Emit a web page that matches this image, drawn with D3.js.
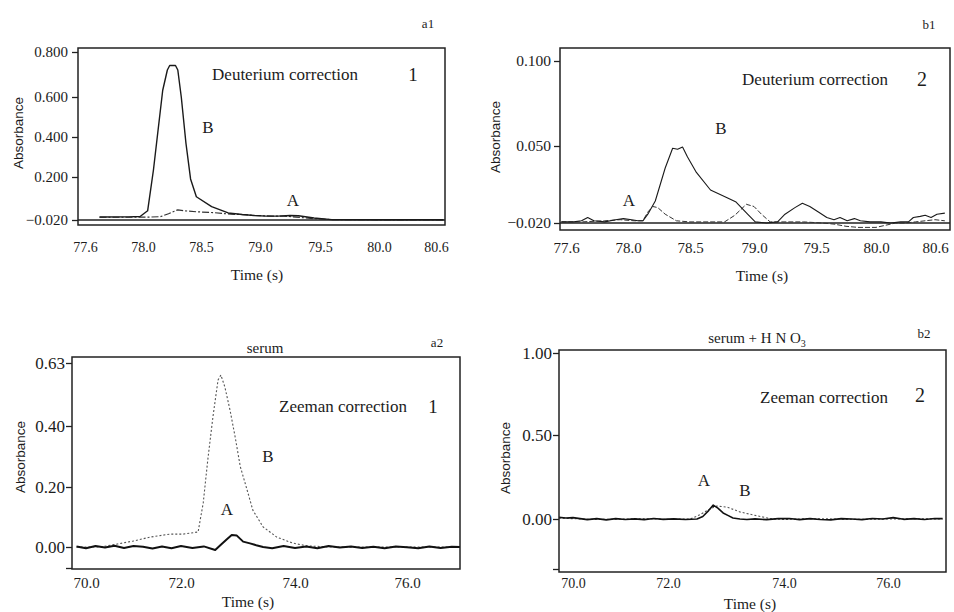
<!DOCTYPE html>
<html><head><meta charset="utf-8">
<script src="https://cdn.jsdelivr.net/npm/d3@7"></script>
<style>
html,body{margin:0;padding:0;background:#fff;}
svg{display:block;}
text{font-family:"Liberation Serif","Times New Roman",serif;fill:#1c1c1c;}
</style></head><body>
<svg id="chart" width="954" height="612"></svg>
<script>
// ---------------- DATA ----------------
// a1 : Deuterium correction 1
const a1XTicks = [77.6, 78.0, 78.5, 79.0, 79.5, 80.0, 80.6];
const a1YTicks = [-0.02, 0.2, 0.4, 0.6, 0.8];
const a1TimeB = [77.7, 77.9, 77.98, 78.04, 78.09, 78.13, 78.17, 78.21, 78.23, 78.28, 78.3, 78.33, 78.37, 78.41, 78.46, 78.59, 78.73, 78.85, 78.95, 79.05, 79.15, 79.25, 79.32, 79.45, 79.6, 80.0, 80.68];
const a1ValB  = [-0.005, -0.004, -0.002, 0.027, 0.235, 0.435, 0.63, 0.72, 0.74, 0.74, 0.72, 0.6, 0.37, 0.19, 0.099, 0.048, 0.016, 0.008, 0.003, 0.0, 0.0, 0.003, 0.002, -0.01, -0.018, -0.019, -0.019];
const a1TimeA = [77.7, 77.9, 78.05, 78.15, 78.22, 78.27, 78.3, 78.36, 78.46, 78.6, 78.75, 78.85, 78.96, 79.1, 79.2, 79.3, 79.45, 79.6, 80.0, 80.68];
const a1ValA  = [-0.006, -0.006, -0.005, -0.003, 0.012, 0.025, 0.032, 0.027, 0.022, 0.018, 0.01, 0.008, 0.003, 0.0, 0.0, -0.005, -0.013, -0.018, -0.019, -0.019];

// b1 : Deuterium correction 2
const b1XTicks = [77.6, 78.0, 78.5, 79.0, 79.5, 80.0, 80.6];
const b1YTicks = [-0.02, 0.05, 0.1];
const b1TimeB = [77.57, 77.65, 77.7, 77.74, 77.78, 77.85, 77.92, 77.97, 78.03, 78.08, 78.12, 78.16, 78.22, 78.3, 78.36, 78.4, 78.44, 78.48, 78.55, 78.66, 78.79, 78.86, 78.95, 79.01, 79.1, 79.19, 79.25, 79.33, 79.39, 79.45, 79.52, 79.59, 79.65, 79.7, 79.76, 79.82, 79.87, 79.95, 80.05, 80.15, 80.25, 80.33, 80.38, 80.45, 80.5, 80.56, 80.62, 80.7];
const b1ValB  = [-0.019, -0.019, -0.018, -0.015, -0.018, -0.019, -0.017, -0.016, -0.017, -0.018, -0.018, -0.012, 0.0, 0.03, 0.048, 0.047, 0.049, 0.04, 0.026, 0.01, 0.003, -0.001, -0.012, -0.019, -0.02, -0.019, -0.012, -0.006, -0.002, -0.005, -0.01, -0.015, -0.017, -0.015, -0.018, -0.016, -0.018, -0.019, -0.019, -0.02, -0.019, -0.019, -0.015, -0.014, -0.013, -0.015, -0.012, -0.011];
const b1TimeA = [77.57, 77.7, 77.85, 77.95, 78.05, 78.12, 78.16, 78.2, 78.24, 78.3, 78.39, 78.5, 78.6, 78.7, 78.77, 78.85, 78.94, 79.0, 79.06, 79.13, 79.25, 79.4, 79.55, 79.65, 79.75, 79.85, 80.0, 80.1, 80.2, 80.3, 80.4, 80.5, 80.6, 80.7];
const b1ValA  = [-0.019, -0.019, -0.018, -0.017, -0.018, -0.018, -0.01, -0.005, -0.006, -0.012, -0.018, -0.019, -0.019, -0.019, -0.019, -0.013, -0.003, -0.005, -0.012, -0.019, -0.019, -0.019, -0.02, -0.021, -0.023, -0.024, -0.024, -0.022, -0.02, -0.02, -0.019, -0.018, -0.017, -0.018];

// a2 : serum, Zeeman correction 1
const a2XTicks = [70.0, 72.0, 74.0, 76.0];
const a2YTicks = [-0.07, 0.0, 0.2, 0.4, 0.63];
const a2TimeA = [69.8, 70.0, 70.2, 70.4, 70.6, 70.8, 71.0, 71.2, 71.4, 71.6, 71.8, 72.0, 72.2, 72.4, 72.6, 72.68, 72.8, 72.89, 72.98, 73.09, 73.21, 73.32, 73.44, 73.6, 73.8, 74.0, 74.2, 74.4, 74.6, 74.8, 75.0, 75.2, 75.4, 75.6, 75.8, 76.0, 76.2, 76.4, 76.6, 76.8, 76.95];
const a2ValA  = [0.002, -0.004, 0.003, -0.002, 0.004, -0.003, 0.003, 0.001, -0.005, 0.002, -0.004, 0.003, -0.003, 0.002, -0.01, 0.004, 0.025, 0.04, 0.038, 0.018, 0.012, 0.006, 0.0, -0.004, 0.003, -0.003, 0.002, -0.004, 0.003, -0.002, 0.002, -0.003, 0.001, -0.004, 0.002, -0.001, -0.004, 0.002, -0.003, 0.001, 0.0];
const a2TimeB = [69.8, 70.3, 70.66, 71.0, 71.35, 71.77, 72.04, 72.3, 72.39, 72.47, 72.56, 72.65, 72.70, 72.77, 72.86, 72.95, 73.04, 73.16, 73.26, 73.44, 73.68, 73.96, 74.21, 74.6, 75.2, 76.0, 76.95];
const a2ValB  = [0.0, 0.0, 0.01, 0.02, 0.033, 0.043, 0.043, 0.05, 0.147, 0.289, 0.433, 0.568, 0.586, 0.542, 0.458, 0.364, 0.267, 0.19, 0.123, 0.067, 0.033, 0.013, 0.004, 0.0, 0.0, 0.0, 0.0];

// b2 : serum + HNO3, Zeeman correction 2
const b2XTicks = [70.0, 72.0, 74.0, 76.0];
const b2YTicks = [-0.3, 0.0, 0.5, 1.0];
const b2TimeA = [69.7, 69.85, 70.0, 70.15, 70.3, 70.5, 70.7, 70.9, 71.1, 71.3, 71.5, 71.7, 71.9, 72.1, 72.3, 72.5, 72.6, 72.7, 72.78, 72.86, 72.95, 73.04, 73.12, 73.24, 73.36, 73.5, 73.7, 73.9, 74.1, 74.3, 74.5, 74.7, 74.9, 75.1, 75.3, 75.5, 75.7, 75.9, 76.1, 76.3, 76.5, 76.7, 76.9, 77.05];
const b2ValA  = [0.01, 0.006, 0.008, 0.002, -0.004, 0.002, -0.005, 0.002, -0.003, 0.001, -0.004, 0.003, -0.002, 0.001, -0.003, 0.0, 0.015, 0.05, 0.083, 0.065, 0.036, 0.02, 0.006, 0.0, -0.003, 0.001, -0.004, 0.002, 0.003, -0.004, 0.002, -0.003, -0.005, 0.002, 0.0, -0.004, 0.003, 0.0, 0.008, -0.002, 0.002, -0.003, 0.003, 0.002];
const b2TimeB = [69.7, 70.5, 71.5, 72.0, 72.38, 72.55, 72.69, 72.84, 73.02, 73.24, 73.47, 73.71, 73.81, 74.0, 74.5, 75.5, 76.5, 77.05];
const b2ValB  = [0.005, -0.003, 0.002, -0.002, 0.0, 0.025, 0.054, 0.077, 0.071, 0.042, 0.024, 0.006, 0.0, -0.003, 0.002, -0.002, 0.002, 0.0];

// ---------------- LAYOUT ----------------
const svg = d3.select('#chart');
const fmt3 = d3.format('.3f'), fmt2 = d3.format('.2f'), fmt1 = d3.format('.1f');

const panels = [
  { id: 'a1', frame: {x0: 78, x1: 445, y0: 48, y1: 225},
    xTicks: a1XTicks, xPos: [85, 143, 201, 260, 320, 379, 436], xLabelY: 247, xFont: 14,
    yTicks: a1YTicks, yPos: [220, 177, 137, 97, 52], yFmt: v => fmt3(v), yFont: 15, tickLen: 6, tickPad: 4,
    baseline: -0.02,
    series: [
      {t: a1TimeA, v: a1ValA, w: 1.2, dash: '7,2,2,2', col: '#333'},
      {t: a1TimeB, v: a1ValB, w: 1.4, dash: null, col: '#1a1a1a'}
    ],
    texts: [
      {s: 'Deuterium correction', x: 285, y: 74, size: 17},
      {s: '1', x: 413, y: 74, size: 19},
      {s: 'B', x: 208, y: 127, size: 17},
      {s: 'A', x: 293, y: 200, size: 17},
      {s: 'a1', x: 428, y: 23, size: 13}
    ],
    yTitle: {x: 18, y: 133}, xTitle: {x: 257, y: 275}
  },
  { id: 'b1', frame: {x0: 560, x1: 950, y0: 48, y1: 230},
    xTicks: b1XTicks, xPos: [566, 628, 690, 754, 816, 876, 935], xLabelY: 248, xFont: 15,
    yTicks: b1YTicks, yPos: [223, 146, 61], yFmt: v => fmt3(v), yFont: 15.5, tickLen: 6, tickPad: 3,
    baseline: -0.02,
    series: [
      {t: b1TimeA, v: b1ValA, w: 1.0, dash: '5,2', col: '#333'},
      {t: b1TimeB, v: b1ValB, w: 1.1, dash: null, col: '#1a1a1a'}
    ],
    texts: [
      {s: 'Deuterium correction', x: 815, y: 79, size: 17},
      {s: '2', x: 922, y: 79, size: 20},
      {s: 'B', x: 721, y: 128, size: 17},
      {s: 'A', x: 629, y: 200, size: 17},
      {s: 'b1', x: 929, y: 24, size: 13}
    ],
    yTitle: {x: 495, y: 137}, xTitle: {x: 762, y: 276}
  },
  { id: 'a2', frame: {x0: 72, x1: 460, y0: 357, y1: 569},
    xTicks: a2XTicks, xPos: [86, 181, 295, 407], xLabelY: 583, xFont: 15,
    yTicks: a2YTicks, yPos: [568, 547, 487, 426, 363], yFmt: v => v < 0 ? '' : fmt2(v), yFont: 17, tickLen: 6, tickPad: 1,
    baseline: null,
    series: [
      {t: a2TimeB, v: a2ValB, w: 1.1, dash: '2,2', col: '#555'},
      {t: a2TimeA, v: a2ValA, w: 2.0, dash: null, col: '#111'}
    ],
    texts: [
      {s: 'Zeeman correction', x: 343, y: 406, size: 17},
      {s: '1', x: 433, y: 406, size: 19},
      {s: 'B', x: 268, y: 456, size: 17},
      {s: 'A', x: 227, y: 509, size: 17},
      {s: 'a2', x: 437, y: 342, size: 13},
      {s: 'serum', x: 265, y: 348, size: 15}
    ],
    yTitle: {x: 20, y: 457}, xTitle: {x: 248, y: 602}
  },
  { id: 'b2', frame: {x0: 559, x1: 946, y0: 350, y1: 572},
    xTicks: b2XTicks, xPos: [573, 668, 784, 888], xLabelY: 583, xFont: 14,
    yTicks: b2YTicks, yPos: [569, 519, 435, 353], yFmt: v => v < 0 ? '' : fmt2(v), yFont: 17, tickLen: 6, tickPad: 1,
    baseline: null,
    series: [
      {t: b2TimeB, v: b2ValB, w: 1.1, dash: '2,2', col: '#555'},
      {t: b2TimeA, v: b2ValA, w: 1.6, dash: null, col: '#111'}
    ],
    texts: [
      {s: 'Zeeman correction', x: 824, y: 397, size: 17},
      {s: '2', x: 920, y: 395, size: 20},
      {s: 'A', x: 704, y: 480, size: 17},
      {s: 'B', x: 745, y: 490, size: 17},
      {s: 'b2', x: 924, y: 333, size: 13}
    ],
    yTitle: {x: 505, y: 458}, xTitle: {x: 750, y: 604}
  }
];

function drawPanel(p) {
  const f = p.frame;
  const g = svg.append('g').attr('class', 'panel-' + p.id);
  const x = d3.scaleLinear().domain(p.xTicks).range(p.xPos);
  const y = d3.scaleLinear().domain(p.yTicks).range(p.yPos);

  g.append('clipPath').attr('id', 'clip-' + p.id)
    .append('rect').attr('x', f.x0).attr('y', f.y0)
    .attr('width', f.x1 - f.x0).attr('height', f.y1 - f.y0);

  // baseline
  if (p.baseline !== null) {
    g.append('line')
      .attr('x1', f.x0).attr('x2', f.x1)
      .attr('y1', y(p.baseline)).attr('y2', y(p.baseline))
      .attr('stroke', '#222').attr('stroke-width', 1.3);
  }

  // series
  const plot = g.append('g').attr('clip-path', `url(#clip-${p.id})`);
  p.series.forEach(s => {
    const line = d3.line()
      .x((d, i) => x(s.t[i]))
      .y(d => y(d));
    plot.append('path').datum(s.v)
      .attr('d', line)
      .attr('fill', 'none')
      .attr('stroke', s.col)
      .attr('stroke-width', s.w)
      .attr('stroke-linejoin', 'round')
      .attr('stroke-dasharray', s.dash);
  });

  // frame
  g.append('rect')
    .attr('x', f.x0).attr('y', f.y0)
    .attr('width', f.x1 - f.x0).attr('height', f.y1 - f.y0)
    .attr('fill', 'none').attr('stroke', '#222').attr('stroke-width', 1.5);

  // y axis
  const ya = g.append('g').attr('transform', `translate(${f.x0},0)`)
    .call(d3.axisLeft(y).tickValues(p.yTicks).tickSize(p.tickLen).tickPadding(p.tickPad).tickFormat(p.yFmt));
  ya.select('.domain').remove();
  ya.attr('font-family', null).attr('font-size', null);
  ya.selectAll('line').attr('stroke', '#222').attr('stroke-width', 1.3);
  ya.selectAll('text').style('font-size', p.yFont + 'px');

  // x axis
  const xa = g.append('g').attr('transform', `translate(0,${f.y1})`)
    .call(d3.axisBottom(x).tickValues(p.xTicks).tickSize(0).tickFormat(v => fmt1(v)));
  xa.select('.domain').remove();
  xa.attr('font-family', null).attr('font-size', null);
  xa.selectAll('text').attr('y', p.xLabelY - f.y1).attr('dy', '0.35em')
    .style('font-size', p.xFont + 'px');

  // titles
  g.append('text')
    .attr('transform', `translate(${p.yTitle.x},${p.yTitle.y}) rotate(-90)`)
    .attr('text-anchor', 'middle').attr('dy', '0.35em')
    .style('font-family', '"Liberation Sans", Arial, sans-serif')
    .style('font-size', '13.5px')
    .text('Absorbance');
  g.append('text')
    .attr('x', p.xTitle.x).attr('y', p.xTitle.y)
    .attr('text-anchor', 'middle').attr('dy', '0.35em')
    .style('font-size', '15.5px')
    .text('Time (s)');

  p.texts.forEach(t => {
    g.append('text').attr('x', t.x).attr('y', t.y)
      .attr('text-anchor', 'middle').attr('dy', '0.35em')
      .style('font-size', t.size + 'px')
      .text(t.s);
  });
}

panels.forEach(drawPanel);

// subtitle for b2 with subscript
const sub = svg.append('text')
  .attr('x', 757).attr('y', 338).attr('text-anchor', 'middle').attr('dy', '0.35em')
  .style('font-size', '15px');
sub.append('tspan').text('serum + H N O');
sub.append('tspan').attr('dy', '4').style('font-size', '10px').text('3');
</script>
</body></html>
